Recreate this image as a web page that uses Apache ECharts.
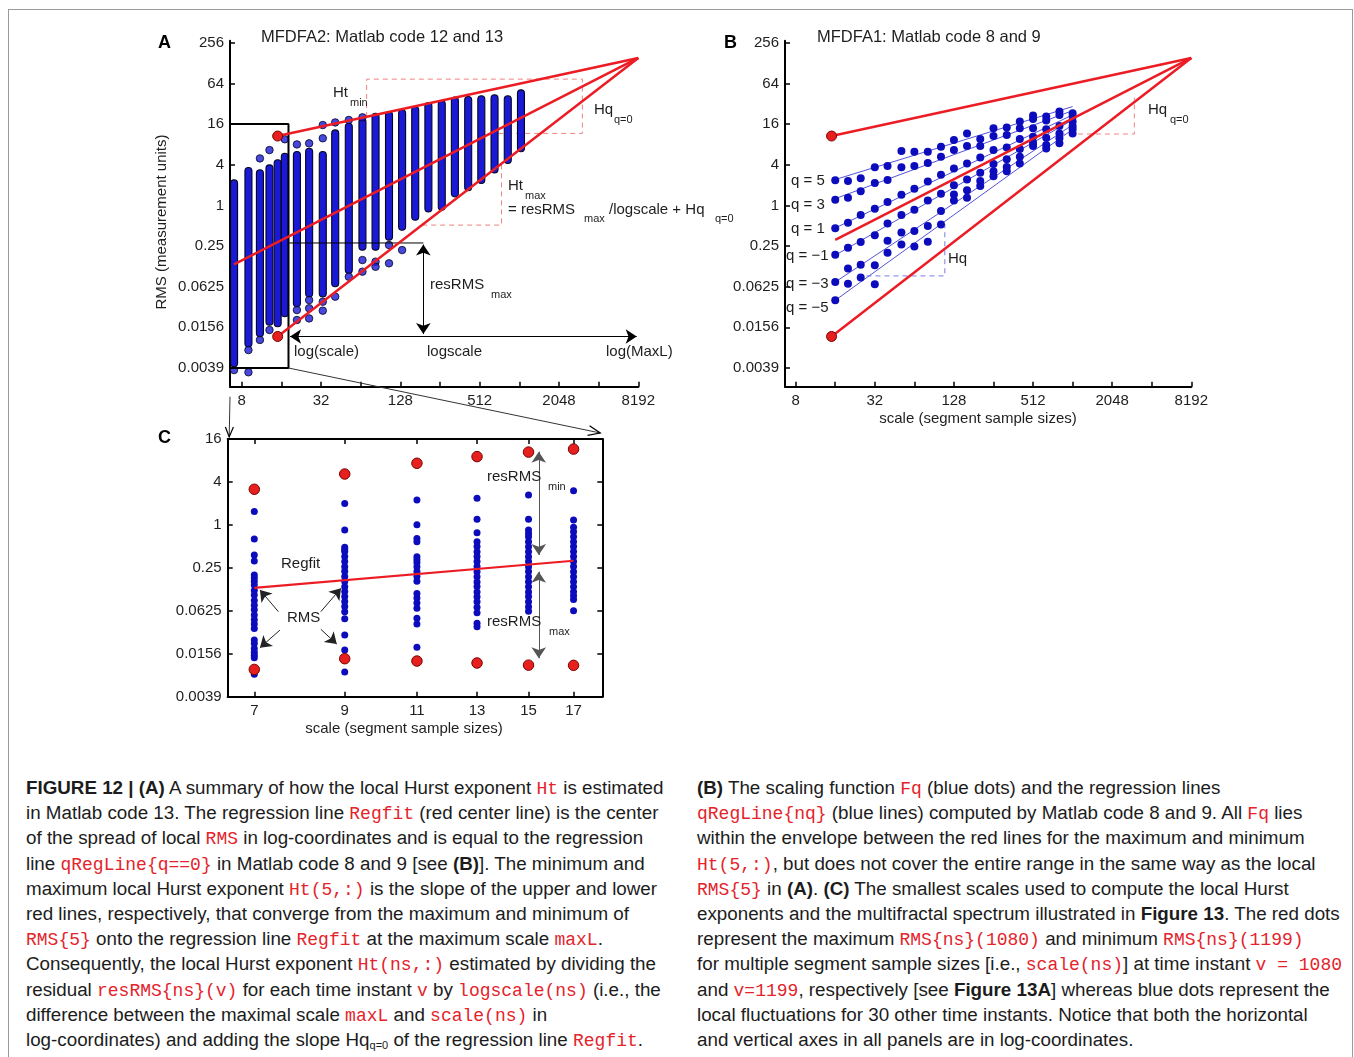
<!DOCTYPE html>
<html><head><meta charset="utf-8">
<script src="https://cdn.jsdelivr.net/npm/echarts@6/dist/echarts.min.js"></script>
<style>
html,body{margin:0;padding:0;background:#fff;overflow:hidden;width:1354px;height:1057px;}
#frame{position:absolute;left:8px;top:9px;width:1343px;height:1100px;border:1px solid #9a9a9a;}
#chart{position:absolute;left:0;top:0;width:1354px;height:760px;}
.cap{position:absolute;top:775px;font-family:'Liberation Sans',Arial,sans-serif;font-size:18.8px;line-height:25.2px;color:#1c1c1c;white-space:nowrap;}
.cap div{height:25.2px;}
.cap code{font-family:'Liberation Mono','Courier New',monospace;color:#e4232b;font-size:18px;}
.cap sub{font-size:11px;vertical-align:-3px;}
</style></head>
<body>
<div id="frame"></div>
<div id="chart"></div>
<div class="cap" style="left:26px">
<div><b>FIGURE 12 | (A)</b> A summary of how the local Hurst exponent <code>Ht</code> is estimated</div>
<div>in Matlab code 13. The regression line <code>Regfit</code> (red center line) is the center</div>
<div>of the spread of local <code>RMS</code> in log-coordinates and is equal to the regression</div>
<div>line <code>qRegLine{q==0}</code> in Matlab code 8 and 9 [see <b>(B)</b>]. The minimum and</div>
<div>maximum local Hurst exponent <code>Ht(5,:)</code> is the slope of the upper and lower</div>
<div>red lines, respectively, that converge from the maximum and minimum of</div>
<div><code>RMS{5}</code> onto the regression line <code>Regfit</code> at the maximum scale <code>maxL</code>.</div>
<div>Consequently, the local Hurst exponent <code>Ht(ns,:)</code> estimated by dividing the</div>
<div>residual <code>resRMS{ns}(v)</code> for each time instant <code>v</code> by <code>logscale(ns)</code> (i.e., the</div>
<div>difference between the maximal scale <code>maxL</code> and <code>scale(ns)</code> in</div>
<div>log-coordinates) and adding the slope Hq<sub>q=0</sub> of the regression line <code>Regfit</code>.</div>
</div>
<div class="cap" style="left:697px">
<div><b>(B)</b> The scaling function <code>Fq</code> (blue dots) and the regression lines</div>
<div><code>qRegLine{nq}</code> (blue lines) computed by Matlab code 8 and 9. All <code>Fq</code> lies</div>
<div>within the envelope between the red lines for the maximum and minimum</div>
<div><code>Ht(5,:)</code>, but does not cover the entire range in the same way as the local</div>
<div><code>RMS{5}</code> in <b>(A)</b>. <b>(C)</b> The smallest scales used to compute the local Hurst</div>
<div>exponents and the multifractal spectrum illustrated in <b>Figure 13</b>. The red dots</div>
<div>represent the maximum <code>RMS{ns}(1080)</code> and minimum <code>RMS{ns}(1199)</code></div>
<div>for multiple segment sample sizes [i.e., <code>scale(ns)</code>] at time instant <code>v = 1080</code></div>
<div>and <code>v=1199</code>, respectively [see <b>Figure 13A</b>] whereas blue dots represent the</div>
<div>local fluctuations for 30 other time instants. Notice that both the horizontal</div>
<div>and vertical axes in all panels are in log-coordinates.</div>
</div>
<script>
// ---------- tick labels ----------
const xTickValsAB = [3,4,5,6,7,8,9,10,11,12,13];          // log2(scale)
const xLabelValsAB = [3,5,7,9,11,13];
const xTickLabelsAB = ['8','32','128','512','2048','8192'];
const yTickValsAB = [-8,-6,-4,-2,0,2,4,6,8];               // log2(RMS)
const yTickLabels = ['0.0039','0.0156','0.0625','0.25','1','4','16','64','256'];
const cScales = [7,9,11,13,15,17];
const cScaleLabels = ['7','9','11','13','15','17'];
const cYTickVals = [-8,-6,-4,-2,0,2,4];
const cYTickLabels = ['0.0039','0.0156','0.0625','0.25','1','4','16'];

// ---------- panel A: local RMS columns (log2 RMS) ----------
const scalesA = [7,9,11,13,15,17,21,26,33,41,52,66,83,105,132,166,209,264,332,419,527,664,837,1054];
const colTopA = [1.08,1.69,1.58,1.82,2.07,2.39,2.48,2.64,2.48,3.54,3.87,4.11,4.36,4.44,4.53,4.69,4.89,4.98,5.15,5.18,5.22,5.27,5.22,5.51];
const colBottomA = [-7.77,-6.79,-6.29,-5.72,-5.80,-5.31,-4.82,-4.33,-4.33,-3.83,-3.18,-2.03,-2.03,-1.54,-1.05,-0.56,-0.15,-0.07,0.59,0.89,1.25,1.77,2.23,2.81];
const isoScaleA = [7,9,9,11,11,13,13,17,21,21,21,26,26,26,26,33,33,33,33,41,41,52,52,66,66,66,83,83,105,105,132];
const isoLog2A = [-8.10,-7.12,-8.21,2.31,-6.62,2.72,-6.13,3.25,3.00,-5.15,-5.64,3.05,-4.66,-5.06,-5.56,3.95,3.30,-4.74,-5.18,4.08,-4.49,4.20,-3.51,4.33,-2.69,-3.26,-2.77,-3.02,-1.95,-2.85,-2.20];

// red envelope (shared A/B)
const apexScale = 8192, apexLog2 = 7.25;
const extremeScale = 15, maxLog2 = 3.41, minLog2 = -6.45;
const regfitStartA = [7, -2.90];
const regfitStartB = [16, -1.70];

// ---------- panel B: Fq (log2) ----------
const scalesB = [16,20,25,32,40,51,64,81,102,128,161,203,256,323,406,512,645,813,1024];
const fq5  = [1.23,1.20,1.33,1.88,1.94,2.67,2.64,2.64,2.88,3.21,3.54,3.26,3.79,3.83,4.12,4.42,4.37,4.62,4.53];
const fq3  = [0.28,0.38,0.69,1.10,1.25,1.88,1.94,2.09,2.39,2.72,2.92,2.92,3.41,3.46,3.79,4.25,4.17,4.45,4.37];
const fq1  = [-1.13,-0.86,-0.48,-0.17,0.16,0.52,0.82,1.18,1.51,1.81,2.06,2.36,2.72,2.85,3.26,3.79,3.74,3.91,4.12];
const fqm1 = [-2.43,-2.08,-1.80,-1.47,-0.89,-0.48,-0.22,0.24,0.57,0.99,1.27,1.61,2.03,2.27,2.77,3.38,3.33,3.54,3.91];
const fqm3 = [-3.77,-3.11,-2.92,-2.94,-1.74,-1.34,-1.26,-1.01,-0.28,0.54,0.74,1.20,1.68,1.89,2.39,3.08,2.97,3.30,3.74];
const fqm5 = [-4.67,-3.85,-3.55,-3.88,-2.33,-1.93,-2.02,-1.79,-0.94,0.24,0.38,0.95,1.43,1.68,2.06,2.92,2.80,3.05,3.54];
const qRegStart = [1.27,0.33,-1.11,-2.45,-3.77,-4.67];   // at scale 16
const qRegEnd   = [4.86,4.66,4.45,4.20,3.96,3.74];       // at scale 1024

// ---------- panel C (log2 RMS) ----------
const cDots = [
  [0.62,-0.66,-1.40,-1.68,-2.33,-2.47,-2.62,-2.80,-3.05,-3.27,-3.52,-3.74,-3.95,-4.20,-4.42,-4.62,-4.83,-5.36,-5.52,-5.76,-5.93,-6.07,-6.19,-6.95],
  [1.00,-0.24,-1.04,-1.14,-1.24,-1.47,-1.70,-1.95,-2.16,-2.40,-2.64,-2.88,-3.10,-3.33,-3.57,-3.80,-4.05,-4.37,-5.13,-5.83,-6.85],
  [1.16,0.01,-0.63,-0.79,-1.48,-1.62,-1.76,-1.95,-2.17,-2.40,-2.62,-3.19,-3.40,-3.64,-3.88,-4.35,-4.62,-5.70],
  [1.24,0.26,-0.36,-0.79,-1.01,-1.25,-1.47,-1.70,-1.94,-2.18,-2.42,-2.66,-2.87,-3.12,-3.35,-3.58,-3.83,-4.09,-4.58,-4.74],
  [1.39,0.26,-0.24,-0.40,-0.55,-0.79,-1.02,-1.25,-1.48,-1.70,-1.95,-2.17,-2.42,-2.65,-2.88,-3.12,-3.33,-3.58,-3.81,-4.02],
  [1.59,0.23,-0.11,-0.32,-0.55,-0.78,-1.01,-1.24,-1.47,-1.71,-1.94,-2.18,-2.41,-2.65,-2.88,-3.11,-3.30,-3.47,-4.00]
];
const cMax = [1.66,2.37,2.87,3.18,3.39,3.53];
const cMin = [-6.73,-6.23,-6.34,-6.43,-6.53,-6.54];
const cRegfit = [[7,-2.93],[17,-1.67]];

// ---------- styles ----------
const FONT = "'Liberation Sans', Arial, sans-serif";
const BLUE = '#0c0cbc', RED = '#ec1c24', TXT = '#1e1e1e';
const lg = Math.log2;

function fmt(vals, labels){ return v => { const i = vals.findIndex(t => Math.abs(t - v) < 1e-6); return i >= 0 ? labels[i] : ''; }; }
function xAx(grid, min, max, ticks, lvals, labels, pos, showLabel){
  return {gridIndex:grid, type:'value', min, max, position:pos||'bottom',
    axisLine:{show:true, onZero:false, lineStyle:{color:'#000', width:2}},
    axisTick:{show:true, inside:true, length:5, customValues:ticks, lineStyle:{color:'#000', width:1.5}},
    axisLabel:{show:showLabel!==false, customValues:lvals, formatter:fmt(lvals, labels), margin:7, fontSize:15, color:TXT, fontFamily:FONT},
    splitLine:{show:false}};
}
function yAx(grid, min, max, ticks, labels, pos, showLabel){
  return {gridIndex:grid, type:'value', min, max, position:pos||'left',
    axisLine:{show:true, onZero:false, lineStyle:{color:'#000', width:2}},
    axisTick:{show:true, inside:true, length:5, customValues:ticks, lineStyle:{color:'#000', width:1.5}},
    axisLabel:{show:showLabel!==false, customValues:ticks, formatter:fmt(ticks, labels), margin:6, fontSize:15, color:TXT, fontFamily:FONT},
    splitLine:{show:false}};
}
function line(pts, xi, yi, style, z){ return {type:'line', xAxisIndex:xi, yAxisIndex:yi, data:pts, symbol:'none', lineStyle:style, z:z||3, silent:true, clip:false}; }
function arrow(coords, xi, yi, color, syms, z){
  return {type:'lines', coordinateSystem:'cartesian2d', xAxisIndex:xi, yAxisIndex:yi, symbol:syms||['arrow','arrow'], symbolSize:11,
    lineStyle:{color:color, width:1, opacity:1}, itemStyle:{color:'#000'}, data:coords.map(c=>({coords:c})), z:z||4, silent:true};
}
function scat(pts, xi, yi, size, style, z){ return {type:'scatter', xAxisIndex:xi, yAxisIndex:yi, data:pts, symbolSize:size, itemStyle:style, z:z||2, silent:true}; }

const redDot = {color:'#e6201e', borderColor:'#7a0000', borderWidth:1, opacity:1};
const series = [];

// ----- A -----
series.push({type:'custom', xAxisIndex:0, yAxisIndex:0, z:2, silent:true,
  data: scalesA.map((s,i)=>[lg(s), colBottomA[i], colTopA[i]]),
  renderItem:(p, api)=>{
    const x=api.value(0), p1=api.coord([x, api.value(2)]), p2=api.coord([x, api.value(1)]), w=7;
    return {type:'rect', shape:{x:p1[0]-w/2, y:p1[1]-w/2, width:w, height:p2[1]-p1[1]+w, r:w/2},
      style:{fill:'#1a1ad6', stroke:'#050520', lineWidth:1.1}};
  }});
series.push(scat(isoScaleA.map((s,i)=>[lg(s), isoLog2A[i]]), 0, 0, 7.5, {color:'#1a1ad6', borderColor:'#050520', borderWidth:1}));
series.push(line([[6.15,4.35],[6.15,6.21],[11.59,6.21],[11.59,3.54],[9.27,3.54]], 0,0, {color:'#f08080', width:1, type:[5,4]}, 1));
series.push(line([[7.55,-0.97],[9.55,-0.97],[9.55,2.04]], 0,0, {color:'#f08080', width:1, type:[5,4]}, 1));
series.push(line([[2.70,4],[4.18,4],[4.18,-8],[2.70,-8],[2.70,4]], 0,0, {color:'#000', width:2}, 5));
series.push(line([[4.18,-1.85],[7.58,-1.85]], 0,0, {color:'#000', width:1}, 5));
series.push(arrow([[[7.58,-1.93],[7.58,-6.33]], [[4.22,-6.45],[12.96,-6.45]]], 0,0, '#000'));
series.push(line([[lg(extremeScale),maxLog2],[lg(apexScale),apexLog2]], 0,0, {color:RED, width:2.5}, 6));
series.push(line([[lg(regfitStartA[0]),regfitStartA[1]],[lg(apexScale),apexLog2]], 0,0, {color:RED, width:2.5}, 6));
series.push(line([[lg(extremeScale),minLog2],[lg(apexScale),apexLog2]], 0,0, {color:RED, width:2.5}, 6));
series.push(scat([[lg(extremeScale),maxLog2],[lg(extremeScale),minLog2]], 0,0, 10, redDot, 7));

// ----- B -----
const fqRows = [fq5, fq3, fq1, fqm1, fqm3, fqm5];
qRegStart.forEach((v,i)=>series.push(line([[lg(16),v],[lg(1024),qRegEnd[i]]], 1,1, {color:'#4040d4', width:0.9}, 2)));
fqRows.forEach(r=>series.push(scat(scalesB.map((s,i)=>[lg(s), r[i]]), 1,1, 8, {color:BLUE, opacity:1}, 3)));
series.push(line([[4.79,-3.47],[6.77,-3.47],[6.77,-0.91]], 1,1, {color:'#7b7be6', width:1, type:[5,4]}, 1));
series.push(line([[9.68,3.51],[11.56,3.51],[11.56,5.3]], 1,1, {color:'#f08080', width:1, type:[5,4]}, 1));
series.push(line([[lg(extremeScale),maxLog2],[lg(apexScale),apexLog2]], 1,1, {color:RED, width:2.5}, 6));
series.push(line([[lg(regfitStartB[0]),regfitStartB[1]],[lg(apexScale),apexLog2]], 1,1, {color:RED, width:2.5}, 6));
series.push(line([[lg(extremeScale),minLog2],[lg(apexScale),apexLog2]], 1,1, {color:RED, width:2.5}, 6));
series.push(scat([[lg(extremeScale),maxLog2],[lg(extremeScale),minLog2]], 1,1, 10, redDot, 7));

// ----- C -----
const cPts = [];
cScales.forEach((s,i)=>cDots[i].forEach(v=>cPts.push([lg(s), v])));
series.push(scat(cPts, 2,2, 7, {color:BLUE, opacity:1}, 3));
series.push(scat(cScales.map((s,i)=>[lg(s), cMax[i]]).concat(cScales.map((s,i)=>[lg(s), cMin[i]])), 2,2, 10.5, redDot, 5));
series.push(line(cRegfit.map(p=>[lg(p[0]),p[1]]), 2,2, {color:RED, width:2.2}, 6));
series.push(arrow([[[2.904,-4.04],[2.830,-3.03]], [[2.910,-4.90],[2.830,-5.72]], [[3.074,-4.04],[3.155,-2.95]], [[3.074,-4.86],[3.138,-5.55]]], 2,2, '#222', ['none','arrow']));
series.push(arrow([[[3.948,3.41],[3.948,-1.40]], [[3.948,-2.18],[3.948,-6.21]]], 2,2, '#555'));

function T(text, x, y, size, extra){ return Object.assign({type:'text', x, y, silent:true, z:50, style:Object.assign({text, fontSize:size||15, fontFamily:FONT, fill:TXT, verticalAlign:'middle', align:'left'}, extra||{})}); }
const graphics = [
  T('A', 158, 43, 18, {fontWeight:'bold', fill:'#000'}),
  T('B', 724, 43, 18, {fontWeight:'bold', fill:'#000'}),
  T('C', 158, 438, 18, {fontWeight:'bold', fill:'#000'}),
  T('MFDFA2: Matlab code 12 and 13', 261, 37, 16.5),
  T('MFDFA1: Matlab code 8 and 9', 817, 37, 16.5),
  Object.assign(T('RMS (measurement units)', 162, 222, 15, {align:'center'}), {rotation:Math.PI/2}),
  T('Ht', 333, 93), T('min', 350, 103, 11),
  T('Hq', 594, 110), T('q=0', 614, 120, 11),
  T('Ht', 508, 186), T('max', 525, 196, 11),
  T('= resRMS', 508, 210), T('max', 584, 219, 11), T('/logscale + Hq', 609, 210), T('q=0', 715, 219, 11),
  T('resRMS', 430, 285), T('max', 491, 295, 11),
  T('log(scale)', 294, 352), T('logscale', 427, 352), T('log(MaxL)', 606, 352),
  T('q = 5', 791, 181), T('q = 3', 791, 205), T('q = 1', 791, 229),
  T('q = \u22121', 786, 256), T('q = \u22123', 786, 284), T('q = \u22125', 786, 308),
  T('Hq', 948, 259), T('Hq', 1148, 110), T('q=0', 1170, 120, 11),
  T('scale (segment sample sizes)', 978, 419, 15, {align:'center'}),
  T('Regfit', 281, 564), T('RMS', 287, 618),
  T('resRMS', 487, 477), T('min', 548, 487, 11),
  T('resRMS', 487, 622), T('max', 549, 632, 11),
  T('scale (segment sample sizes)', 404, 729, 15, {align:'center'})
];

const option = {
  animation:false,
  backgroundColor:'transparent',
  textStyle:{fontFamily:FONT},
  grid:[
    {left:230, top:40.7, width:408.3, height:346},
    {left:785, top:40.7, width:406.3, height:346},
    {left:227.7, top:439, width:374.6, height:257.7}
  ],
  xAxis:[
    xAx(0, 2.705, 13, xTickValsAB, xLabelValsAB, xTickLabelsAB),
    xAx(1, 2.73, 13, xTickValsAB, xLabelValsAB, xTickLabelsAB),
    xAx(2, 2.7007, 4.2027, cScales.map(lg), cScales.map(lg), cScaleLabels),
    xAx(2, 2.7007, 4.2027, cScales.map(lg), cScales.map(lg), cScaleLabels, 'top', false)
  ],
  yAxis:[
    yAx(0, -8.92, 8.1, yTickValsAB, yTickLabels),
    yAx(1, -8.92, 8.1, yTickValsAB, yTickLabels),
    yAx(2, -8, 4, cYTickVals, cYTickLabels),
    yAx(2, -8, 4, cYTickVals, cYTickLabels, 'right', false)
  ],
  series,
  graphic: graphics
};
const chart = echarts.init(document.getElementById('chart'), null, {renderer:'canvas'});
chart.setOption(option);

// connectors from the box in A to panel C
function head(tip, from, len, half){
  const dx=tip[0]-from[0], dy=tip[1]-from[1], d=Math.hypot(dx,dy), ux=dx/d, uy=dy/d;
  const bx=tip[0]-ux*len, by=tip[1]-uy*len;
  return {type:'polyline', silent:true, z:60, shape:{points:[[bx-uy*half, by+ux*half], tip, [bx+uy*half, by-ux*half]]}, style:{stroke:'#000', lineWidth:1.2, fill:null}};
}
const boxCorner = chart.convertToPixel({xAxisIndex:0, yAxisIndex:0}, [4.18, -8]);
const aOrigin = chart.convertToPixel({xAxisIndex:0, yAxisIndex:0}, [2.705, -8.92]);
const cTR = chart.convertToPixel({xAxisIndex:2, yAxisIndex:2}, [4.2027, 4]);
const cTL = chart.convertToPixel({xAxisIndex:2, yAxisIndex:2}, [2.7007, 4]);
const tip1 = [cTR[0]-2, cTR[1]-6], tip2 = [cTL[0]+1.5, cTL[1]-2];
const st2 = [aOrigin[0], aOrigin[1]+10];
chart.setOption({graphic: graphics.concat([
  {type:'line', silent:true, z:60, shape:{x1:boxCorner[0], y1:boxCorner[1], x2:tip1[0], y2:tip1[1]}, style:{stroke:'#333', lineWidth:1}},
  head(tip1, boxCorner, 12, 5),
  {type:'line', silent:true, z:60, shape:{x1:st2[0], y1:st2[1], x2:tip2[0], y2:tip2[1]}, style:{stroke:'#333', lineWidth:1}},
  head(tip2, st2, 10, 4)
])});
</script>
</body></html>
